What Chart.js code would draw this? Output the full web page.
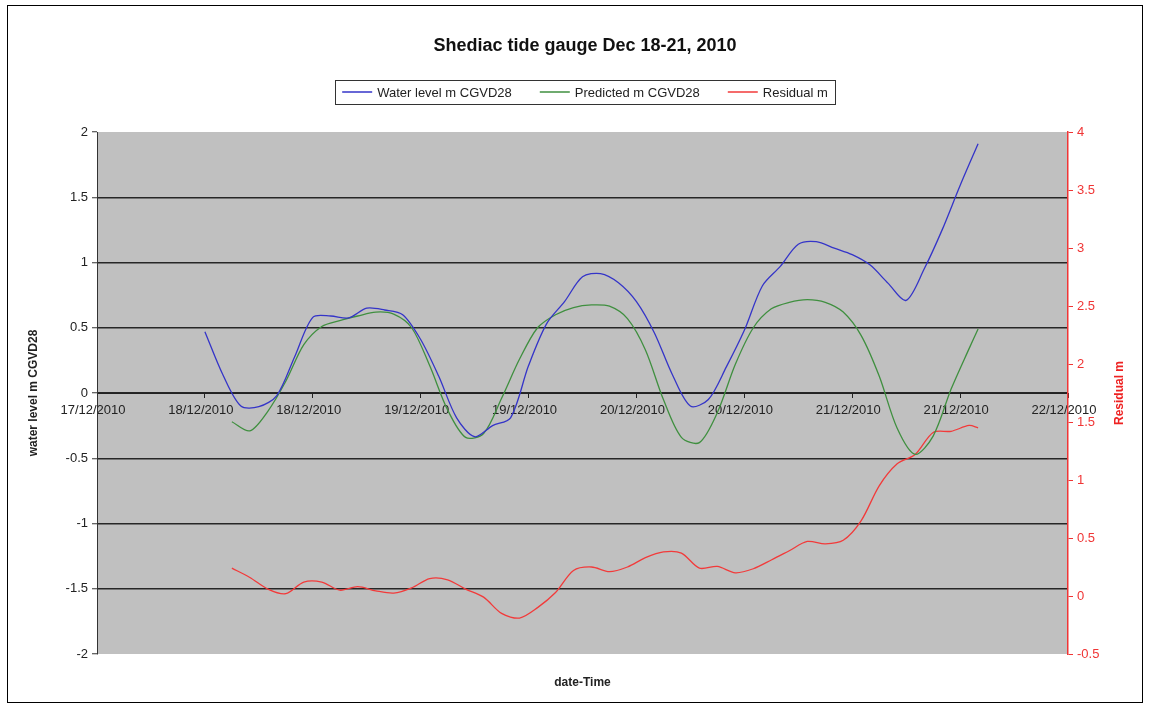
<!DOCTYPE html>
<html><head><meta charset="utf-8">
<script src="https://cdn.jsdelivr.net/npm/chart.js@4.4.1/dist/chart.umd.min.js"></script>
<style>html,body{margin:0;padding:0;background:#fff;}canvas{display:block;}</style>
</head><body>
<canvas id="c" width="1151" height="710"></canvas>
<script>
const chartTitle = 'Shediac tide gauge Dec 18-21, 2010';
const seriesNames = ['Water level m CGVD28', 'Predicted m CGVD28', 'Residual m'];
const leftAxisTitle = 'water level m CGVD28';
const rightAxisTitle = 'Residual m';
const xAxisTitle = 'date-Time';
const xTickLabels = ['17/12/2010','18/12/2010','18/12/2010','19/12/2010','19/12/2010','20/12/2010','20/12/2010','21/12/2010','21/12/2010','22/12/2010'];

// hours since 18/12/2010 00:00
const hoursObserved = [0,2,4,6,8,10,12,14,16,18,20,22,24,26,28,30,32,34,36,38,40,42,44,46,48,50,52,54,56,58,60,62,64,66,68,70,72,74,76,78,80,82,84,86];
const waterLevel = [0.47,0.14,-0.10,-0.105,-0.02,0.28,0.58,0.59,0.575,0.65,
  0.636,0.60,0.41,0.13,-0.19,-0.335,-0.25,-0.19,0.21,0.53,
  0.70,0.89,0.915,0.845,0.70,0.46,0.14,-0.10,-0.05,0.20,
  0.48,0.82,0.97,1.14,1.16,1.11,1.06,0.98,0.84,0.71,
  0.95,1.25,1.59,1.91];

const hoursPredicted = [3,5,7,9,11,13,15,17,19,21,23,25,27,29,31,33,35,37,39,41,43,45,47,49,51,53,55,57,59,61,63,65,67,69,71,73,75,77,79,81,83,85,86];
const predicted = [-0.22,-0.29,-0.14,0.09,0.37,0.51,0.555,0.59,0.62,0.605,
  0.50,0.21,-0.13,-0.34,-0.31,-0.04,0.26,0.50,0.60,0.655,
  0.675,0.665,0.57,0.33,-0.05,-0.34,-0.38,-0.15,0.22,0.50,
  0.645,0.695,0.715,0.695,0.62,0.44,0.13,-0.27,-0.47,-0.33,
  0.03,0.34,0.49];
const residual = [0.24,0.16,0.06,0.02,0.12,0.12,0.05,0.08,0.045,0.025,
  0.07,0.15,0.14,0.06,-0.01,-0.15,-0.19,-0.10,0.03,0.22,
  0.25,0.21,0.25,0.33,0.38,0.37,0.24,0.255,0.20,0.235,
  0.31,0.39,0.47,0.45,0.48,0.65,0.95,1.14,1.22,1.41,
  1.42,1.47,1.45];

const FONT = '"Liberation Sans", Arial, sans-serif';
const colors = ['#3434C8', '#3F8F3F', '#F23A3A'];

const pts = (xs, ys) => xs.map((x, i) => ({x: x, y: ys[i]}));

const framePlugin = {
  id: 'frame',
  beforeDraw(chart) {
    const {ctx, chartArea: a} = chart;
    ctx.save();
    ctx.fillStyle = '#fff';
    ctx.fillRect(0, 0, chart.width, chart.height);
    ctx.fillStyle = '#C0C0C0';
    ctx.fillRect(a.left, a.top, a.right - a.left, a.bottom - a.top);
    ctx.strokeStyle = '#000';
    ctx.lineWidth = 1;
    ctx.strokeRect(7.5, 5.5, 1135, 697);
    ctx.restore();
  },
  afterDraw(chart) {
    const {ctx, chartArea: a} = chart;
    ctx.save();
    const cx = 585;
    ctx.fillStyle = '#111';
    ctx.font = 'bold 18px ' + FONT;
    ctx.textAlign = 'center';
    ctx.textBaseline = 'middle';
    ctx.fillText(chartTitle, cx, 46);

    ctx.font = '13px ' + FONT;
    const widths = seriesNames.map(n => ctx.measureText(n).width);
    const lineLen = 30, gapT = 5, gapI = 28, pad = 7;
    const total = widths.reduce((s, w) => s + lineLen + gapT + w, 0) + gapI * (widths.length - 1);
    let x = cx - total / 2;
    const ly = 92;
    ctx.fillStyle = '#fff';
    ctx.fillRect(Math.round(x - pad), 80, Math.round(total + 2 * pad), 24);
    ctx.strokeStyle = '#333';
    ctx.lineWidth = 1;
    ctx.strokeRect(Math.round(x - pad) + 0.5, 80.5, Math.round(total + 2 * pad), 24);
    seriesNames.forEach((name, i) => {
      ctx.strokeStyle = colors[i];
      ctx.lineWidth = 1.5;
      ctx.beginPath();
      ctx.moveTo(x, ly);
      ctx.lineTo(x + lineLen, ly);
      ctx.stroke();
      ctx.fillStyle = '#222';
      ctx.textAlign = 'left';
      ctx.fillText(name, x + lineLen + gapT, ly + 1);
      x += lineLen + gapT + widths[i] + gapI;
    });

    ctx.fillStyle = '#222';
    ctx.font = 'bold 12px ' + FONT;
    ctx.textAlign = 'center';
    ctx.fillText(xAxisTitle, (a.left + a.right) / 2, 683);

    ctx.translate(1120, (a.top + a.bottom) / 2);
    ctx.rotate(-Math.PI / 2);
    ctx.fillStyle = '#EE2222';
    ctx.fillText(rightAxisTitle, 0, 0);
    ctx.restore();
  }
};

new Chart(document.getElementById('c'), {
  type: 'line',
  data: {
    datasets: [
      {label: seriesNames[0], data: pts(hoursObserved, waterLevel), borderColor: colors[0], borderWidth: 1.3, pointRadius: 0, tension: 0.3, yAxisID: 'y'},
      {label: seriesNames[1], data: pts(hoursPredicted, predicted), borderColor: colors[1], borderWidth: 1.3, pointRadius: 0, tension: 0.3, yAxisID: 'y'},
      {label: seriesNames[2], data: pts(hoursPredicted, residual), borderColor: colors[2], borderWidth: 1.3, pointRadius: 0, tension: 0.3, yAxisID: 'y1'}
    ]
  },
  options: {
    responsive: false,
    animation: false,
    layout: {padding: {top: 132, bottom: 56, left: 0, right: 0}},
    plugins: {legend: {display: false}, title: {display: false}, tooltip: {enabled: false}},
    scales: {
      x: {
        type: 'linear', min: -12, max: 96, position: {y: 0},
        ticks: {stepSize: 12, autoSkip: false, maxRotation: 0, color: '#222', font: {family: FONT, size: 13}, padding: 6, labelOffset: -4,
          callback: (v, i) => xTickLabels[i]},
        grid: {drawOnChartArea: false, drawTicks: true, tickLength: 4, tickColor: '#222'},
        border: {display: true, color: '#222', width: 1}
      },
      y: {
        position: 'left', min: -2, max: 2,
        ticks: {stepSize: 0.5, color: '#222', font: {family: FONT, size: 13}, padding: 4, callback: v => String(v)},
        grid: {color: c => (c.tick && Math.abs(c.tick.value) === 2) ? 'rgba(0,0,0,0)' : '#262626', lineWidth: 1.5, tickLength: 5, tickColor: '#333', tickWidth: 1},
        border: {display: true, color: '#333', width: 1},
        title: {display: true, text: leftAxisTitle, color: '#222', font: {family: FONT, size: 12, weight: 'bold'}, padding: {top: 26, bottom: 0}},
        afterFit: s => { s.width = 97; }
      },
      y1: {
        position: 'right', min: -0.5, max: 4,
        ticks: {stepSize: 0.5, color: '#F03535', font: {family: FONT, size: 13}, padding: 4, callback: v => String(v)},
        grid: {drawOnChartArea: false, tickLength: 5, tickColor: '#F03535'},
        border: {display: true, color: '#F03535', width: 1.5},
        afterFit: s => { s.width = 83; }
      }
    }
  },
  plugins: [framePlugin]
});
</script>
</body></html>
